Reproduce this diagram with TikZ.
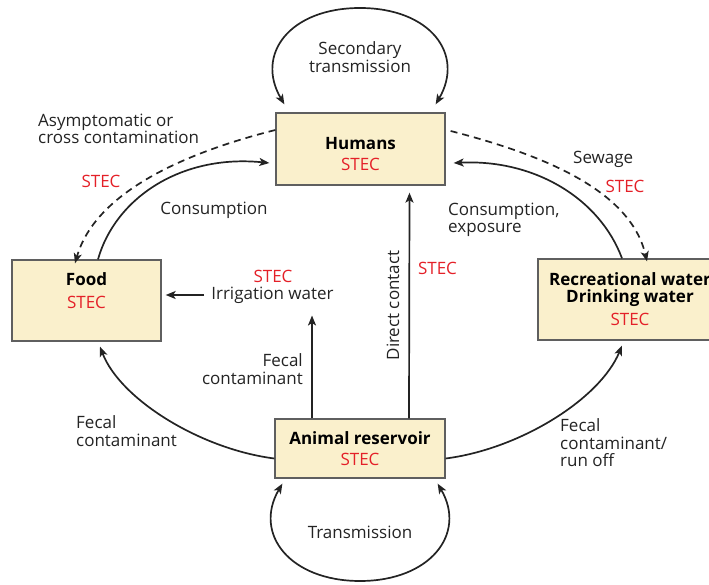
\documentclass[tikz,border=0pt]{standalone}
\usepackage{fontspec}
\setmainfont{Open Sans}
\usetikzlibrary{arrows.meta, calc}

\definecolor{boxfill}{RGB}{250,240,204}
\definecolor{boxline}{RGB}{95,95,95}
\definecolor{stecred}{RGB}{228,32,40}
\definecolor{ink}{RGB}{35,35,35}

\tikzset{
  pool/.style={draw=boxline, fill=boxfill, line width=1.3pt, align=center, inner sep=0pt},
  flow/.style={draw=ink, line width=1.7pt, -{Stealth[length=10pt, width=8pt, inset=2.5pt]}},
  both/.style={flow, {Stealth[length=10pt, width=8pt, inset=2.5pt]}-{Stealth[length=10pt, width=8pt, inset=2.5pt]}},
  leak/.style={flow, dashed, dash pattern=on 7pt off 5pt},
  note/.style={text=ink, align=left, inner sep=0pt},
  stec/.style={text=stecred, inner sep=0pt}
}

\begin{document}
\begin{tikzpicture} [x=1pt, y=1pt, font=\fontsize{17}{17.5}\selectfont]
\useasboundingbox (0,0) rectangle (709,584);
\clip (0,0) rectangle (709,584);

\path (360.5,435) node[pool, minimum width=169, minimum height=72] (hum)
        {\mbox{}\\[5pt]\textbf{Humans}\\[4pt]\textcolor{stecred}{STEC}}
      (86.5,283.5) node[pool, minimum width=149, minimum height=81] (food)
        {\textbf{Food}\\[6pt]\textcolor{stecred}{STEC}\\[2pt]\mbox{}}
      (630,284.5) node[pool, minimum width=184, minimum height=81] (rec)
        {\textbf{Recreational water}\\[-1pt]\textbf{Drinking water}\\[6pt]\textcolor{stecred}{STEC}}
      (360,135.5) node[pool, minimum width=170, minimum height=59] (ani)
        {\textbf{Animal reservoir}\\[3pt]\textcolor{stecred}{STEC}};

\path (272.5,289) node[note] (irr) {Irrigation water}
      (273,308) node[stec] (irrstec) {STEC};

% loops on humans and animals
\draw[both] ($(hum.north west)+(9,8)$) .. controls (255,530) and (290,576) .. (360,576)
      .. controls (430,576) and (465,530) .. ($(hum.north east)+(-10,8)$);
\draw[both] ($(ani.south west)+(8,-5)$) .. controls (253,50) and (290,3) .. (360,3)
      .. controls (430,3) and (467,50) .. ($(ani.south east)+(-8,-5)$);
\node[note, align=center] (sec) at (360,527) {Secondary\\transmission};
\node[note] (trans) at (360,52) {Transmission};

% food <-> humans
\draw[flow] ([xshift=11.5]food.north) .. controls (115,385) and (180,430) .. ([xshift=-6,yshift=-14]hum.west);
\draw[leak] ([yshift=19]hum.west) .. controls (180,430) and (95,390) .. ([xshift=-11.5,yshift=-4]food.north);
\node[note] (asym) at (38,455) [anchor=west] {Asymptomatic or\\cross contamination};
\node[stec] (asymstec) at (101,403) {STEC};
\node[note] (cons) at (214,374) {Consumption};

% water <-> humans
\draw[flow] ([xshift=-8]rec.north) .. controls (600,385) and (535,425) .. ([xshift=8,yshift=-14]hum.east);
\draw[leak] ([xshift=5,yshift=18]hum.east) .. controls (540,430) and (630,395) .. ([xshift=17,yshift=-3]rec.north);
\node[note] (sew) at (573,425) [anchor=west] {Sewage};
\node[stec] (sewstec) at (625,398) {STEC};
\node[note] (expo) at (448,364) [anchor=west] {Consumption,\\exposure};

% animal reservoir outwards
\draw[flow] ([xshift=49]ani.north) -- ([xshift=49,yshift=-7]hum.south)
  node[midway, left=9pt, rotate=90, anchor=south, note] (dc) {Direct contact};
\node[stec] (dcstec) at (437.5,316) {STEC};
\draw[flow] ([xshift=-48]ani.north) -- ([xshift=-48,yshift=-12]irr.south -| ani.north);
\draw[flow] ([xshift=-7]irr.west) -- ([xshift=4]irr.west -| food.east);
\node[note, align=right] (fec) at (303,215) [anchor=east] {Fecal\\contaminant};

\draw[flow] ([yshift=-10]ani.west) .. controls (200,135) and (120,185) .. ([xshift=13.5,yshift=-5]food.south);
\node[note] (fecl) at (76,153) [anchor=west] {Fecal\\contaminant};
\draw[flow] ([yshift=-10]ani.east) .. controls (520,135) and (600,185) .. ([xshift=-8,yshift=-5]rec.south);
\node[note] (fecr) at (560,141) [anchor=west] {Fecal\\contaminant/\\run off};

\end{tikzpicture}
\end{document}
